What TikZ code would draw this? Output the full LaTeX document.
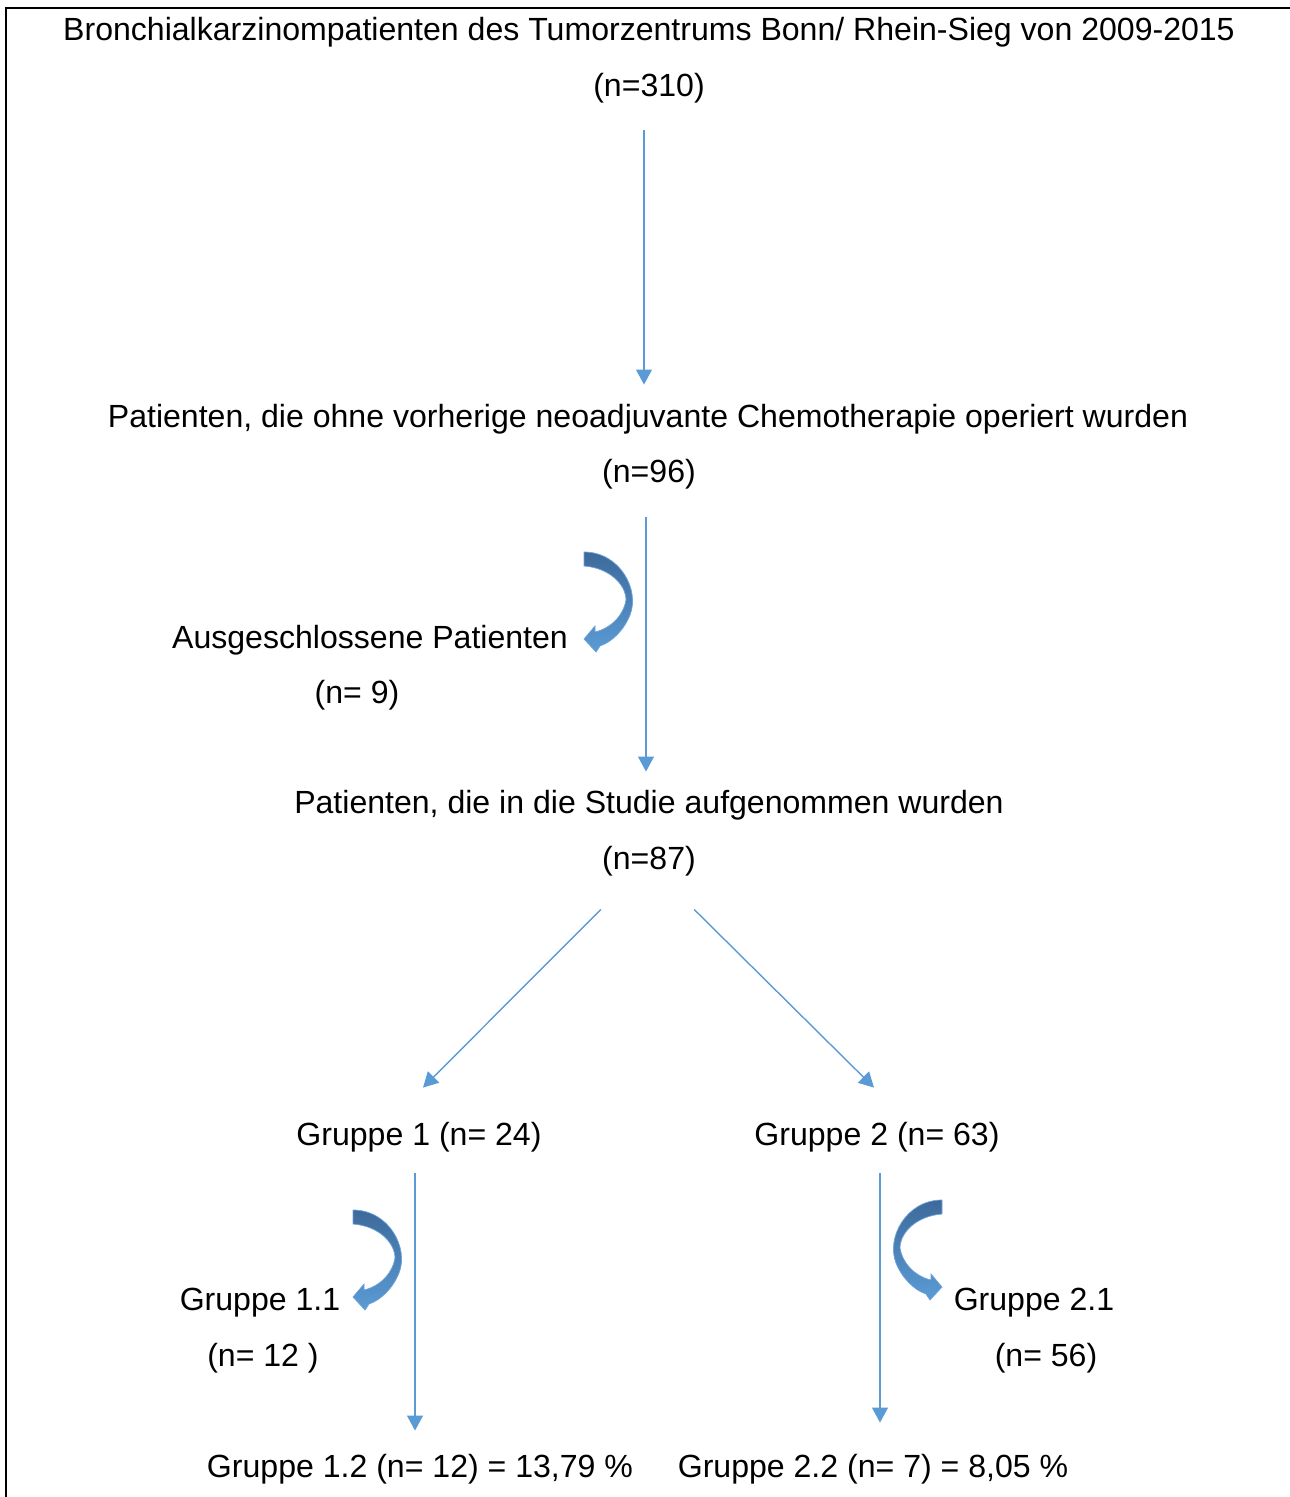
\documentclass[tikz,border=0pt]{standalone}
\usepackage{fontspec}
\setmainfont{Liberation Sans}
\usetikzlibrary{arrows.meta, positioning, calc}

\definecolor{flowblue}{HTML}{5B9BD5}
\definecolor{bendtop}{HTML}{3D6A9A}
\definecolor{bendbot}{HTML}{5B9BD5}
\definecolor{bendedge}{HTML}{6FA3DA}

\tikzset{
  txt/.style={anchor=base, inner sep=0pt, font=\fontsize{18.25}{21}\selectfont,
    text height=13.7pt, text depth=4.6pt},
  flow/.style={draw=flowblue, line width=0.8pt, -{Triangle[length=8.5pt, width=9pt]}},
  bendarrow/.pic={
    \shade[top color=bendtop, bottom color=bendbot, draw=bendedge, line width=0.4pt]
      (0,0) .. controls (36,0) and (56,38) .. (46,63)
      .. controls (40,78) and (28,90) .. (16,94)
      -- (12,100) -- (0,87) -- (11,74) -- (11,80)
      .. controls (28,76) and (40,62) .. (42,48)
      .. controls (42,33) and (26,16) .. (0,14) -- cycle;
  }
}

\begin{document}
\begin{tikzpicture}[x=0.02cm, y=-0.02cm]
  \useasboundingbox (0,0) rectangle (1290,1497);
  % frame
  \draw[line width=1.3pt] (6,1497) -- (6,8) -- (1290,8);

  % texts
  \node[txt] (src)   at (649,41)  {Bronchialkarzinompatienten des Tumorzentrums Bonn/ Rhein-Sieg von 2009-2015};
  \node[txt] (srcN)  at (649,96)  {(n=310)};
  \node[txt] (ops)   at (648,427) {Patienten, die ohne vorherige neoadjuvante Chemotherapie operiert wurden};
  \node[txt] (opsN)  at (649,482) {(n=96)};
  \node[txt] (excl)  at (370,648) {Ausgeschlossene Patienten};
  \node[txt] (exclN) at (357,703) {(n= 9)};
  \node[txt] (stud)  at (649,813) {Patienten, die in die Studie aufgenommen wurden};
  \node[txt] (studN) at (649,869) {(n=87)};
  \node[txt] (grpA)  at (419,1145) {Gruppe 1 (n= 24)};
  \node[txt] (grpB)  at (877,1145) {Gruppe 2 (n= 63)};
  \node[txt] (grpAa) at (260,1310) {Gruppe 1.1};
  \node[txt] (grpAaN) at (263,1366) {(n= 12 )};
  \node[txt] (grpBa) at (1034,1310) {Gruppe 2.1};
  \node[txt] (grpBaN) at (1046,1366) {(n= 56)};
  \node[txt] (grpAb) at (420,1477) {Gruppe 1.2 (n= 12) = 13,79 \%};
  \node[txt] (grpBb) at (873,1477) {Gruppe 2.2 (n= 7) = 8,05 \%};

  % straight arrows
  \draw[flow] ($(srcN.south)+(-5,26)$) -- ($(ops.north)+(-4,-18)$);
  \draw[flow] ($(opsN.south)+(-3,27)$) -- ($(stud.north)+(-3,-17)$);
  \draw[flow] ($(studN.south west)+(-1,32)$) -- ($(grpA.north)+(4,-33)$);
  \draw[flow] ($(studN.south east)+(-2,32)$) -- ($(grpB.north)+(-3,-33)$);
  \draw[flow] ($(grpA.south)+(-4,20)$) -- ($(grpAb.north)+(-5,-22)$);
  \draw[flow] ($(grpB.south)+(3,20)$) -- ($(grpBb.north)+(7,-30)$);

  % curved arrows
  \pic at (584,552) {bendarrow};
  \pic at (353,1210) {bendarrow};
  \pic[xscale=-1] at (942,1200) {bendarrow};
\end{tikzpicture}
\end{document}
